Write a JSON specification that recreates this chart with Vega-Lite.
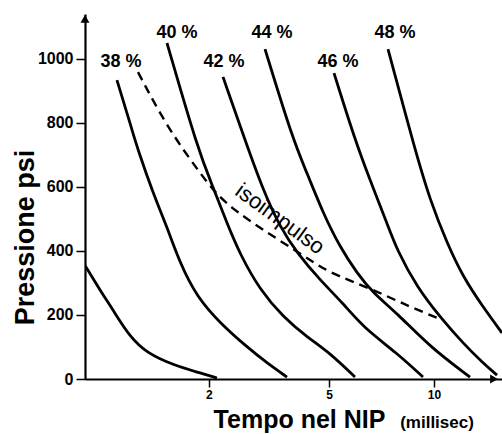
{
  "$schema": "https://vega.github.io/schema/vega-lite/v6.json",
  "width": 417,
  "height": 365,
  "autosize": {"type": "none"},
  "padding": {"left": 85, "top": 14, "right": 0, "bottom": 55},
  "background": "white",
  "config": {
    "view": {"stroke": null},
    "font": "Liberation Sans",
    "axis": {"grid": false, "domainColor": "black", "tickColor": "black", "labelColor": "black", "titleColor": "black"}
  },
  "datasets": {
    "curves": [
      {"series": "base", "t": 0.467, "p": 355},
      {"series": "base", "t": 0.599, "p": 278},
      {"series": "base", "t": 0.724, "p": 216},
      {"series": "base", "t": 0.901, "p": 131},
      {"series": "base", "t": 1.098, "p": 81},
      {"series": "base", "t": 1.438, "p": 44},
      {"series": "base", "t": 1.849, "p": 19},
      {"series": "base", "t": 2.143, "p": 3},
      {"series": "38", "t": 0.764, "p": 934},
      {"series": "38", "t": 0.935, "p": 769},
      {"series": "38", "t": 0.992, "p": 716},
      {"series": "38", "t": 1.172, "p": 581},
      {"series": "38", "t": 1.355, "p": 475},
      {"series": "38", "t": 1.538, "p": 362},
      {"series": "38", "t": 1.8, "p": 256},
      {"series": "38", "t": 2.198, "p": 175},
      {"series": "38", "t": 2.737, "p": 100},
      {"series": "38", "t": 3.195, "p": 50},
      {"series": "38", "t": 3.708, "p": 6},
      {"series": "40", "t": 1.355, "p": 1050},
      {"series": "40", "t": 1.816, "p": 716},
      {"series": "40", "t": 2.071, "p": 600},
      {"series": "40", "t": 2.329, "p": 487},
      {"series": "40", "t": 2.589, "p": 390},
      {"series": "40", "t": 3.029, "p": 278},
      {"series": "40", "t": 3.601, "p": 194},
      {"series": "40", "t": 4.284, "p": 131},
      {"series": "40", "t": 5.035, "p": 81},
      {"series": "40", "t": 5.972, "p": 6},
      {"series": "42", "t": 2.254, "p": 944},
      {"series": "42", "t": 2.694, "p": 747},
      {"series": "42", "t": 3.099, "p": 591},
      {"series": "42", "t": 3.522, "p": 475},
      {"series": "42", "t": 3.988, "p": 394},
      {"series": "42", "t": 4.697, "p": 309},
      {"series": "42", "t": 5.505, "p": 237},
      {"series": "42", "t": 6.301, "p": 162},
      {"series": "42", "t": 7.885, "p": 81},
      {"series": "42", "t": 9.324, "p": 6},
      {"series": "44", "t": 3.147, "p": 1031},
      {"series": "44", "t": 3.874, "p": 747},
      {"series": "44", "t": 4.284, "p": 644},
      {"series": "44", "t": 4.796, "p": 519},
      {"series": "44", "t": 5.394, "p": 412},
      {"series": "44", "t": 6.053, "p": 331},
      {"series": "44", "t": 6.735, "p": 269},
      {"series": "44", "t": 7.885, "p": 206},
      {"series": "44", "t": 9.75, "p": 100},
      {"series": "44", "t": 12.543, "p": 6},
      {"series": "46", "t": 5.176, "p": 956},
      {"series": "46", "t": 5.972, "p": 747},
      {"series": "46", "t": 6.603, "p": 622},
      {"series": "46", "t": 7.387, "p": 487},
      {"series": "46", "t": 7.885, "p": 403},
      {"series": "46", "t": 8.973, "p": 287},
      {"series": "46", "t": 10.389, "p": 194},
      {"series": "46", "t": 12.006, "p": 112},
      {"series": "46", "t": 13.598, "p": 50},
      {"series": "46", "t": 14.83, "p": 12},
      {"series": "48", "t": 7.435, "p": 1031},
      {"series": "48", "t": 8.858, "p": 716},
      {"series": "48", "t": 9.75, "p": 559},
      {"series": "48", "t": 10.858, "p": 425},
      {"series": "48", "t": 12.006, "p": 319},
      {"series": "48", "t": 13.598, "p": 225},
      {"series": "48", "t": 15.29, "p": 144},
      {"series": "isoimpulso", "t": 0.992, "p": 959},
      {"series": "isoimpulso", "t": 1.355, "p": 787},
      {"series": "isoimpulso", "t": 1.849, "p": 644},
      {"series": "isoimpulso", "t": 2.071, "p": 591},
      {"series": "isoimpulso", "t": 2.388, "p": 537},
      {"series": "isoimpulso", "t": 3.099, "p": 466},
      {"series": "isoimpulso", "t": 4.284, "p": 378},
      {"series": "isoimpulso", "t": 5.035, "p": 331},
      {"series": "isoimpulso", "t": 6.603, "p": 284},
      {"series": "isoimpulso", "t": 8.578, "p": 225},
      {"series": "isoimpulso", "t": 10.588, "p": 184}
    ],
    "labels": [
      {"label": "38 %", "t": 0.806, "p": 991},
      {"label": "40 %", "t": 1.495, "p": 1081},
      {"label": "42 %", "t": 2.273, "p": 991},
      {"label": "44 %", "t": 3.318, "p": 1081},
      {"label": "46 %", "t": 5.32, "p": 991},
      {"label": "48 %", "t": 7.783, "p": 1081}
    ],
    "notes": [
      {"label": "isoimpulso", "t": 3.522, "p": 500}
    ],
    "units": [
      {"label": "(millisec)", "t": 10.194, "p": -153}
    ],
    "arrows": [
      {"shape": "triangle-up", "t": 0.467, "p": 1125},
      {"shape": "triangle-right", "t": 14.556, "p": 0}
    ]
  },
  "encoding": {
    "x": {
      "field": "t", "type": "quantitative",
      "scale": {"type": "symlog", "constant": 1, "domain": [0.467, 15.29], "nice": false, "zero": false},
      "axis": {
        "values": [2, 5, 10], "title": "Tempo nel NIP",
        "titleFontSize": 25, "titleFontWeight": "bold", "titleX": 214, "titleY": 48, "titleBaseline": "alphabetic", "titleAlign": "center",
        "labelFontSize": 12, "labelFontWeight": "bold", "labelPadding": 2,
        "tickSize": 8, "tickWidth": 1.5, "domainWidth": 2.2
      }
    },
    "y": {
      "field": "p", "type": "quantitative",
      "scale": {"domain": [0, 1140.6], "nice": false},
      "axis": {
        "values": [0, 200, 400, 600, 800, 1000], "format": "d", "title": "Pressione psi",
        "titleFontSize": 27, "titleFontWeight": "bold", "titleX": -52, "titleY": 223, "titleBaseline": "alphabetic", "titleAlign": "center", "titleAngle": 270,
        "labelFontSize": 16, "labelFontWeight": "bold", "labelPadding": 3,
        "tickSize": 9, "tickWidth": 1.5, "domainWidth": 2.2
      }
    }
  },
  "layer": [
    {
      "data": {"name": "curves"},
      "transform": [{"filter": "datum.series != 'isoimpulso'"}],
      "mark": {"type": "line", "color": "black", "strokeWidth": 2.8, "interpolate": "basis", "clip": true},
      "encoding": {"detail": {"field": "series"}}
    },
    {
      "data": {"name": "curves"},
      "transform": [{"filter": "datum.series == 'isoimpulso'"}],
      "mark": {"type": "line", "color": "black", "strokeWidth": 2.4, "strokeDash": [9, 6], "interpolate": "basis"},
      "encoding": {"detail": {"field": "series"}}
    },
    {
      "data": {"name": "labels"},
      "mark": {"type": "text", "fontSize": 18, "fontWeight": "bold", "color": "black", "align": "center", "baseline": "middle"},
      "encoding": {"text": {"field": "label"}}
    },
    {
      "data": {"name": "notes"},
      "mark": {"type": "text", "fontSize": 22, "color": "black", "align": "center", "baseline": "middle", "angle": 36},
      "encoding": {"text": {"field": "label"}}
    },
    {
      "data": {"name": "units"},
      "mark": {"type": "text", "fontSize": 17, "fontWeight": "bold", "color": "black", "align": "center", "baseline": "alphabetic"},
      "encoding": {"text": {"field": "label"}}
    },
    {
      "data": {"name": "arrows"},
      "mark": {"type": "point", "filled": true, "color": "black", "opacity": 1, "size": 80},
      "encoding": {"shape": {"field": "shape", "type": "nominal", "scale": null, "legend": null}}
    }
  ]
}
